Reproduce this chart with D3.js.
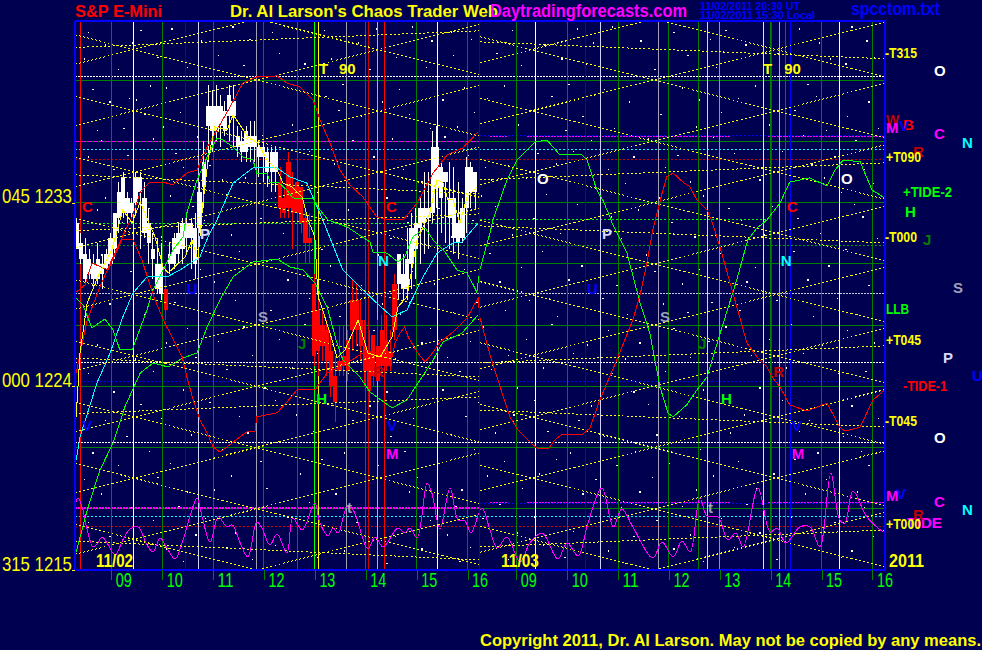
<!DOCTYPE html>
<html><head><meta charset="utf-8"><title>S&amp;P E-Mini</title>
<script src="https://cdnjs.cloudflare.com/ajax/libs/d3/7.8.5/d3.min.js"></script>
<style>html,body{margin:0;padding:0;background:#000050;overflow:hidden}svg{display:block}text{font-family:"Liberation Sans",Arial,sans-serif;font-weight:bold}</style>
</head><body><svg id="c" width="982" height="650"></svg>
<script>
// ---- price bars: 5-minute E-mini bars, bar number from the session start
const barHigh=[1232.25,1231.5,1231.25,1230.75,1230.5,1231,1230.5,1230.75,1231.5,1232.5,1234,1234.5,1233.5,1233.25,1234.5,1234.5,1234,1232.75,1231.5,1231.25,1231,1230,1231,1231.5,1232,1232.25,1232.5,1232.25,1232.5,1234,1236,1238.75,1238.5,1238.75,1238.25,1238,1238.75,1238.75,1236.75,1236.5,1236.75,1237,1237,1236,1236,1235.75,1235.75,1235.75,1234.75,1233.75,1235.5,1234.5,1237,1233.75,1232.75,1232.5,1229.5,1228.25,1227.75,1227.25,1226.5,1225.5,1227,1227,1226.75,1229.25,1229,1228.25,1227.25,1226.75,1226.5,1227.25,1227.5,1227.5,1226.75,1229.5,1230.5,1230.5,1231.75,1232.5,1232.75,1233.25,1234.5,1234.5,1236.5,1236.75,1235,1234.5,1235,1234.75,1234,1233.25,1235.25,1235,1234.5];
const barBodyTop=[1232,1231,1230.5,1230.25,1230,1230.25,1230,1230.5,1231.25,1232.5,1233.5,1234.25,1233.25,1233,1234.25,1234.25,1233.25,1232,1230.75,1230,1230,1228.75,1230.5,1231.25,1231.5,1232,1232,1232,1231.75,1233.5,1235,1237.75,1237.75,1237.75,1237.75,1237.5,1238.25,1238,1236.25,1236,1236.5,1236.25,1236.25,1235.75,1235.75,1235.5,1235.5,1235.5,1234,1233.25,1235,1233.75,1234,1233.75,1232.25,1231.25,1229,1227.75,1227,1226.75,1225.75,1224.5,1225.25,1225.5,1226.25,1228.25,1228.25,1227.25,1226,1225.75,1226.5,1226,1226.75,1226.25,1225.75,1229,1230.5,1229.5,1230.25,1231.75,1232,1232.75,1232.75,1232.75,1235.75,1235.75,1234.75,1234.5,1233.25,1233.25,1232,1232.75,1234.75,1234.75,1234.5];
const barBodyBot=[1230.75,1230.25,1229.25,1229.5,1229.25,1229.25,1229.5,1229.75,1230,1230.75,1232.25,1232.5,1232.5,1232.5,1233,1233.5,1231.5,1231,1230.25,1228.75,1228.5,1227.75,1230,1230,1230.5,1230.75,1231.25,1231.25,1230,1231.75,1233.75,1236.75,1236.5,1236.5,1236.75,1236.5,1237.25,1237.25,1235.75,1235.5,1235.5,1235.75,1235.75,1235.25,1235.25,1234.5,1234.5,1234.5,1232.75,1232.5,1232.75,1232.5,1232.5,1232,1231,1231,1225.5,1225.75,1226,1225.25,1224,1223.25,1224.75,1225,1224.75,1226.75,1226.75,1226,1224.75,1223.75,1224.5,1224.25,1225,1225,1225,1226.75,1229,1228.75,1228.75,1230,1230.75,1231.75,1232,1232.25,1232.5,1233.75,1233.25,1234,1232.25,1231.25,1231,1231.25,1232.75,1233.5,1233.5];
const barLow=[1230.75,1230,1229,1229.25,1229,1229,1228.75,1229.75,1230,1230.25,1231.5,1232.25,1232,1232.25,1232.5,1230.75,1231.25,1230,1229.25,1228.5,1228.25,1227.25,1229.5,1229.75,1230,1230,1230.5,1229.75,1229.25,1231.5,1232.75,1235,1235.5,1236,1235.75,1236.25,1236,1235.75,1235.25,1235,1235,1235,1235,1234.25,1234,1233.75,1233.5,1233.5,1232.25,1232.25,1232.25,1230.75,1230.75,1231.5,1230,1230,1225,1224.5,1225.25,1224.5,1223.5,1222.25,1224.5,1224.5,1224.25,1225.75,1226,1225.25,1224,1223.25,1224,1224.25,1224.5,1224.75,1224.75,1226.25,1228.25,1228.25,1228.25,1228.75,1229.25,1230,1230.5,1230.75,1232,1232.75,1231.5,1231,1230.75,1230.5,1230.25,1231,1231.5,1232.75,1232.75];
const redBars=[21,48,49,50,51,52,53,54,55,56,57,58,59,60,61,62,63,64,65,66,67,68,69,70,71,72,73,74,75];

// ---- indicator curves: [bar number, price]
const tide1=[[-0.4,1228.57],[2,1228.97],[3.6,1230.04],[7.4,1229.7],[10.7,1231.17],[13.3,1231.17],[15.4,1230.19],[18.5,1228.23],[20.8,1227.1],[22,1226.61],[24.9,1225.44],[26,1224.46],[27.5,1223.33],[29.1,1222.35],[30.8,1221.71],[32.2,1221.03],[33.8,1220.78],[35.5,1221.03],[38.5,1221.52],[40.2,1221.76],[42.1,1221.81],[42.5,1222.5],[44.9,1222.6],[47.3,1222.7],[49.6,1223.23],[52,1223.82],[56.2,1223.82],[59.1,1224.65],[63.8,1225.14],[67.5,1225.63],[71.1,1225.68],[74.4,1225.44],[75.1,1226.12],[76.3,1226.61],[77.4,1226.91],[78.2,1226.42],[80.3,1225.68],[82.2,1225.19],[84.1,1225.68],[85.7,1226.17],[88.5,1226.61],[92.1,1227.35],[94.7,1228.33],[95.1,1227.4],[97.5,1225.54],[99.9,1223.97],[102.2,1222.5],[104.1,1221.86],[106.9,1221.27],[108.8,1220.93],[111.2,1220.93],[112.8,1221.37],[114.5,1221.66],[119.4,1221.66],[121.1,1221.96],[123.4,1223.33],[127.4,1225.29],[131.2,1227.25],[132.9,1228.48],[134.5,1230.04],[135.9,1231.66],[137.1,1232.64],[138.1,1233.47],[139.2,1234.26],[140.7,1234.45],[143,1234.01],[144.7,1233.77],[146.3,1233.13],[148.7,1232.64],[149.9,1232.05],[151.8,1230.78],[154.8,1228.57],[158.1,1226.12],[160.5,1225.44],[162.8,1224.95],[164.2,1224.41],[165.9,1223.97],[168.2,1223.09],[172.3,1222.79],[177,1223.18],[180,1222],[181.2,1221.81],[184.8,1222],[187.8,1223.33],[190.6,1223.82]];
const tide1b=[[-0.1,1224.65],[2.5,1227.25],[5.5,1228.87],[8.6,1230.34],[11.9,1231.81],[13.1,1232.3],[15,1233.52],[17.3,1234.01],[20.4,1234.01],[22.7,1233.87],[26,1234.45],[28.4,1234.6],[30.8,1235.73],[33.1,1236.56],[36.2,1237.69],[39.2,1238.86],[42.5,1239.16],[47.3,1239.21],[49.6,1238.86],[52.7,1238.67],[55.8,1238.03],[57.4,1237.05],[59.8,1235.92],[62.1,1234.6],[64.5,1233.87],[67.5,1233.28],[70.8,1232.3],[73.9,1232.15],[77,1232.15],[80.3,1232.98],[84.1,1234.45],[87.4,1235.34],[91.1,1235.68],[94.7,1236.46]];
const tide2=[[-0.1,1228.33],[1.5,1227.99],[3.6,1226.86],[6.7,1227.3],[8.6,1226.76],[10.2,1225.78],[13.1,1225.78],[16.6,1227.74],[18,1228.72],[20.4,1229.7],[22.7,1230.68],[25.1,1231.32],[26,1232.49],[28.4,1234.11],[30.8,1235.24],[33.1,1236.17],[34.5,1236.07],[36.9,1235.73],[39.2,1235.24],[41.6,1235.09],[42.5,1234.45],[44.9,1234.45],[45.6,1234.01],[47.5,1234.01],[49.6,1233.62],[51,1233.23],[55.8,1233.18],[57.4,1232.64],[59.3,1232.15],[63.8,1231.81],[69.2,1231.07],[69.9,1230.58],[73.2,1230.53],[75.8,1230.09],[77.4,1230.34],[79.3,1231.32],[82.2,1231.76],[84.1,1231.17],[86.9,1230.58],[89.7,1229.7],[92.1,1229.55],[94.4,1228.62],[95.1,1229.7],[97.5,1231.51],[98.2,1232.15],[101.5,1234.11],[103.9,1235.09],[106.2,1235.58],[108.1,1235.97],[110.9,1236.07],[114,1235.34],[119.2,1235.34],[120.4,1235.09],[122.7,1233.62],[124.1,1233.13],[125.8,1232.3],[126.3,1232],[129.8,1230.53],[132.9,1228.08],[135.2,1226.61],[137.6,1223.97],[139.5,1222.69],[140.7,1222.5],[143.9,1223.09],[146.3,1223.82],[148.7,1224.46],[151.8,1226.61],[155.7,1229.21],[158.3,1231.17],[160.5,1231.76],[162.8,1232.15],[165.9,1232.98],[168.2,1234.01],[172.9,1234.21],[177,1233.82],[178.9,1234.6],[180.8,1235.09],[184.8,1235],[187.6,1233.62],[190.6,1233.23]];
const tide2b=[[-0.1,1215.88],[2.5,1217.94],[5.5,1219.9],[8.6,1221.22],[11.4,1223],[15,1224.65],[18,1225.14],[21.6,1224.95],[25.1,1225.39],[28.4,1225.63],[30.8,1226.91],[33.8,1228.23],[36.9,1229.36],[41.6,1230.09],[47.3,1230.24],[50.3,1229.85],[53.4,1229.7],[56.2,1229.06],[59.1,1227.89],[61.4,1226.12],[62.8,1225.29],[66.8,1224.46],[69.2,1223.72],[74.4,1222.94],[77.9,1223.33],[81,1224.31],[84.1,1225.29],[86.4,1226.17],[90.9,1226.61],[94.7,1227.5]];
const cyanCurve=[[-0.1,1220.39],[0.8,1221.52],[4.8,1224.16],[7.9,1225.63],[10.9,1227.4],[13.3,1228.57],[16.6,1229.36],[21.3,1229.36],[24.4,1229.7],[29.1,1230.34],[31,1231.32],[33.1,1232.15],[36.9,1233.96],[41.6,1234.7],[47.3,1234.7],[50.3,1234.26],[54.3,1233.96],[56.7,1232.79],[58.1,1232.15],[59.3,1231.51],[62.8,1229.7],[66.8,1228.87],[70.8,1228.08],[74.4,1227.4],[77.9,1227.74],[81.7,1229.36],[85,1230.53],[88.8,1231.02],[90.9,1231.07],[94.7,1232]];
const yellowCurve=[[-0.1,1222.5],[0.8,1225.63],[2.5,1228.08],[5,1229.36],[8.3,1230.68],[10.9,1232.64],[13.1,1232],[15,1233.03],[18.5,1231.32],[20.4,1229.85],[21.6,1229.55],[25.6,1230.34],[27.2,1231.17],[28.6,1230.19],[29.8,1232.98],[31,1235.09],[32.6,1236.71],[35.5,1236.56],[36.9,1237.3],[38.1,1236.95],[40.4,1236.22],[42.8,1235.92],[44.9,1235.09],[47.3,1234.6],[48.7,1233.96],[50.8,1233.77],[53.2,1233.28],[54.6,1232.15],[56.2,1231.32],[56.9,1228.48],[60.5,1226.12],[61.4,1225.39],[63.3,1225.78],[66.4,1227.25],[68.7,1225.63],[71.6,1225.44],[74.4,1226.42],[75.8,1227.89],[77.9,1228.38],[80.3,1231.17],[83.3,1232.49],[85,1234.11],[86.4,1233.96],[87.6,1233.13],[88.8,1233.13],[90.4,1232],[92.1,1233.28],[94.4,1233.77]];
const tideLine=[[-0.1,1218.33],[0.3,1218.53],[1.3,1218.09],[2.5,1216.96],[3.9,1216.13],[5,1216.32],[6,1216.62],[7.2,1216.32],[9.1,1215.74],[10.9,1216.47],[12.6,1217.01],[14.5,1217.11],[16.6,1216.23],[18,1215.88],[19.7,1216.57],[21.3,1216.08],[23.2,1215.54],[25.1,1216.47],[26.7,1217.6],[28.4,1218.53],[29.6,1217.6],[31.5,1216.37],[33.4,1217.6],[35.5,1217.11],[36.7,1217.21],[38.5,1216.37],[40.4,1215.64],[42.5,1217.35],[43.7,1217.06],[45.6,1216.23],[47.3,1216.76],[49.6,1215.83],[51,1217.55],[53.2,1216.96],[56.2,1218.28],[57.4,1217.3],[59.3,1216.67],[60.5,1217.06],[61.7,1216.81],[63.8,1218.09],[65.2,1217.94],[68.7,1216.03],[70.4,1216.62],[72.3,1216.13],[75.8,1217.06],[77.4,1216.81],[78.6,1217.06],[80.3,1216.57],[82.7,1219.26],[83.8,1218.77],[85.7,1217.01],[88.1,1219.02],[90,1217.45],[91.6,1217.4],[93,1216.81],[95.6,1218.04],[97.5,1216.96],[99.2,1216.08],[101.5,1216.62],[104.6,1215.39],[106.9,1216.32],[109.8,1216.81],[113.5,1215.54],[115.7,1216.32],[118.3,1215.69],[120.6,1217.3],[123.9,1219.02],[126.6,1217.11],[128.6,1217.99],[131.2,1217.11],[135.9,1215.59],[138.1,1216.37],[140.7,1215.64],[142.8,1216.42],[144.7,1215.88],[147,1218.53],[148.7,1217.65],[151.3,1217.6],[153.6,1216.47],[155.5,1216.81],[157.2,1216.13],[160.7,1219.02],[163.6,1216.86],[165.2,1217.06],[167.3,1216.32],[170.6,1217.11],[173,1217.11],[175.3,1216.13],[177.9,1219.75],[180,1217.45],[181.2,1217.3],[183.1,1218.87],[186.4,1217.6],[190.2,1216.86]];

// ---- axis ticks
const hourLabels=["09","10","11","12","13","14","15","16","09","10","11","12","13","14","15","16"];
const hourBars=[8.2,20.2,32.2,44.2,56.2,68.2,80.2,92.2,103.7,115.7,127.7,139.7,151.7,163.7,175.7,187.7];
const priceTicks=[1215,1224,1233];
const priceTickLabels=["315 1215","000 1224","045 1233"];
const gridPrices=[1218,1221,1224,1227,1230,1233,1236,1239];

// ---- planet vertical time lines (bar numbers)
const frameBars=[-0.4,95.1,190.6];
const redTimes=[0.9,72.6,167.1];
const darkRedTimes=[68.8,163.8];
const whiteTimes=[13.4,85.1,108.2,179.9];
const blueTimes=[25.6,120,168.3];
const lavenderTimes=[28.7,123.5,148.7];
const grayTimes=[42.4,63.6,137.2];
const jupiterTimes=[52.1,146.6];
const brightGreenTimes=[56.2,151.7];
const yellowTimes=[57,162];
const cyanTimes=[70.9,165.7];

// ---- horizontal planet levels (prices)
const whiteLevels=[1239.19,1225.15,1221.23];
const grayLevel=[1228.53];
const cyanLevels=[1235.6,1217.63];
const darkRedLevels=[1235.1,1217.12];
const blueLevel=[1224.23];
const darkGreenLevel=[1230.92];
const mercuryLeft=[1236,1218.04];
const mercuryRight=[1236.25,1218.3];
const venusRight=[1236.27,1218.28];

// ---- lattice of straight price lines: each half session
const halfStart=[-0.4,95.1];
const halfEnd=[95.1,190.6];
const halfCentre=[42.4,136.1];
const latticeLevels=[1215,1218,1221,1224,1227,1230,1233,1236,1239,1242];
const latticeSlope=0.052;
const flatLeftRise=[[1240.6,1241.42],[1231.63,1232.45],[1222.66,1223.48]];
const flatLeftFall=[[1234.36,1233.43],[1225.39,1224.46],[1216.42,1215.49]];
const flatRightFall=[[1240.88,1240.05],[1231.86,1231.03],[1222.84,1222.01]];
const flatRightRise=[[1234.12,1234.95],[1225.15,1225.98],[1216.13,1216.96]];

// ---- planet letters placed on the chart
const letterNames=["C","C","C","O","O","P","P","U","U","S","S","J","J","H","H","N","N","R","R","V","V","V","M","M","t","t","T","90","T","90"];
const letterBars=[1.3,73,167.5,108.6,180.3,29.1,123.9,26,120.4,42.8,137.6,52.2,146.6,56.5,152,71.1,166.1,69.9,164.3,1.3,73.2,168.7,73,168.7,63.8,148.9,57.2,61.9,161.9,166.9];
const letterPrices=[1232.54,1232.54,1232.54,1233.91,1233.91,1231.22,1231.22,1228.52,1228.52,1227.15,1227.15,1225.83,1225.83,1223.13,1223.13,1229.9,1229.9,1224.46,1224.46,1221.81,1221.81,1221.81,1220.44,1220.44,1217.79,1217.79,1239.3,1239.3,1239.3,1239.3];

// ---- background star field: price row, then bar numbers
const starRows=[
[1241.5,[3,15,22,37,46,58,71,79,88,103,118,126,141,153,170,183]],
[1240.9,[7,13,29,41,52,66,84,93,110,122,133,149,158,175,186]],
[1240.2,[2,19,33,48,60,75,89,99,114,128,144,165,178,188]],
[1239.7,[10,26,39,54,69,82,105,120,136,151,168,181]],
[1238.7,[4,21,17,63,76,91,101,116,124,143,160,172,185]],
[1238.1,[8,14,12,59,72,86,97,112,130,147,156,174,187]],
[1237.4,[1,16,24,62,67,78,94,107,119,138,152,169,182]],
[1236.7,[5,11,20,51,56,83,90,104,115,127,146,163,177,189]],
[1236.2,[6,18,28,44,65,74,87,100,121,135,150,171,184]],
[1235.4,[3,12,23,55,70,92,109,117,131,142,155,166,179]],
[1234.8,[9,25,31,61,77,96,102,113,125,139,159,173,186]],
[1234.1,[2,15,34,40,68,81,98,106,129,145,161,176,188]],
[1233.4,[7,22,35,57,73,95,111,123,137,148,167,180]],
[1232.8,[5,17,27,47,64,85,99,118,132,154,164,183]],
[1232.2,[11,30,43,53,78,93,108,126,140,157,170,185]],
[1231.4,[1,20,36,49,74,88,103,114,128,146,162,175,189]],
[1230.6,[6,24,38,58,71,97,110,122,134,152,169,181]],
[1229.8,[13,29,42,60,79,91,105,119,136,147,160,177]],
[1229.1,[4,19,32,50,67,84,100,116,127,143,158,172,187]],
[1228.2,[8,23,37,55,72,94,107,124,138,150,165,179]],
[1227.6,[2,16,30,46,62,76,89,101,113,130,144,156,174,184]],
[1226.9,[10,26,39,54,70,83,96,112,125,141,153,168,182]],
[1226.2,[5,21,33,48,66,81,93,106,120,133,149,163,176,188]],
[1225.5,[14,28,41,57,75,87,102,117,129,145,159,171]],
[1224.8,[3,18,35,51,64,90,98,110,126,139,155,167,180,186]],
[1223.9,[9,25,44,59,73,86,104,115,131,148,161,178]],
[1223.2,[1,15,31,47,69,82,95,108,121,135,151,166,183]],
[1222.5,[7,20,38,52,65,79,92,103,118,128,142,157,173,189]],
[1221.7,[12,27,40,56,74,88,99,111,124,137,154,170,181]],
[1220.9,[4,17,34,49,63,77,94,107,116,132,147,162,175,185]],
[1220.3,[10,22,43,58,71,85,101,113,127,140,156,169,187]],
[1219.6,[2,19,36,53,68,80,97,109,122,136,150,164,177]],
[1218.9,[6,26,32,45,61,78,91,105,119,133,146,160,172,184]],
[1218.2,[13,24,42,55,72,89,100,112,128,143,158,174,186]],
[1217.5,[3,18,30,50,66,83,96,108,123,137,152,168,179]],
[1216.8,[8,28,37,60,75,87,104,117,131,145,161,176,188]],
[1216.1,[1,21,35,47,63,81,93,110,125,141,155,170,183]],
[1215.5,[11,25,41,57,73,90,102,115,129,148,165,180]]
];

// ---- scales
const W=982,H=650;
const x=d3.scaleLinear().domain([0,191]).range([76.6,886.4]);
const y=d3.scaleLinear().domain([1215,1241.9]).range([570,21]);
const svg=d3.select("#c");
svg.append("rect").attr("width",W).attr("height",H).attr("fill","#000050");
svg.append("defs").append("clipPath").attr("id","plot").append("rect")
  .attr("x",x(-0.4)).attr("y",y(1241.9)).attr("width",x(190.6)-x(-0.4)).attr("height",y(1215)-y(1241.9));
const plot=svg.append("g").attr("clip-path","url(#plot)").attr("shape-rendering","crispEdges");

// stars
const stars=starRows.flatMap(([p,bs])=>bs.map((b,i)=>[b+((i%3)-1)*0.3,p+((i%4)-1.5)*0.09]));
plot.append("g").selectAll("rect").data(stars).join("rect")
  .attr("x",d=>x(d[0])).attr("y",d=>y(d[1])).attr("width",1.4).attr("height",1.4).attr("fill","#fff");

// helpers
function vLines(bars,color,w){
  plot.append("g").selectAll("line").data(bars).join("line")
    .attr("x1",d=>x(d)).attr("x2",d=>x(d)).attr("y1",y(1241.9)).attr("y2",y(1215))
    .attr("stroke",color).attr("stroke-width",w||1);
}
function levels(ps,from,to,color,dash,w){
  plot.append("g").selectAll("line").data(ps).join("line")
    .attr("x1",x(from)).attr("x2",x(to)).attr("y1",d=>y(d)).attr("y2",d=>y(d))
    .attr("stroke",color).attr("stroke-width",w||1).attr("stroke-dasharray",dash||null);
}

// horizontal grid and levels
levels(gridPrices,-0.4,190.6,"#008000");
levels(whiteLevels,-0.4,190.6,"#ffffff","2 1");
levels(grayLevel,-0.4,190.6,"#c8c8e0","2 1");
levels(cyanLevels,-0.4,190.6,"#00ffff","2 2");
levels(darkRedLevels,-0.4,190.6,"#d00000","2 2");
levels(blueLevel,-0.4,190.6,"#0000ff","2 2");
levels(darkGreenLevel,-0.4,190.6,"#00a000","2 2");
levels([1231.96],-0.4,95.1,"#00ff00","2 2");
levels([1232.15],95.1,163,"#00ff00","2 2");
levels(venusRight,95.1,190.6,"#0000ff","2 2");
levels(mercuryLeft,-0.4,95.1,"#ff00ff","2 1",1.6);
levels(mercuryRight,97.5,101.5,"#ff00ff","2 1",1.4);
levels(mercuryRight,106.2,154,"#ff00ff","2 1",1.4);
levels(mercuryRight,163,190.6,"#ff00ff","2 1",1.4);

// vertical time lines
vLines(hourBars,"#008000");
vLines(jupiterTimes,"#008000");
vLines(brightGreenTimes,"#00ff00");
vLines(darkRedTimes,"#d00000");
vLines(whiteTimes,"#ffffff");
vLines(blueTimes,"#0000ff");
vLines(lavenderTimes,"#d0d0ff");
vLines(grayTimes,"#a0a0b8");
vLines(yellowTimes,"#ffff00");
vLines(cyanTimes,"#00ffff");
vLines(redTimes,"#ff0000");

// candle bars
const bars=barHigh.map((h,i)=>({i,h,t:barBodyTop[i],b:barBodyBot[i],l:barLow[i],col:redBars.includes(i)?"#ff0000":"#ffffff"}));
const gb=plot.append("g");
gb.selectAll("line").data(bars).join("line")
  .attr("x1",d=>x(d.i)).attr("x2",d=>x(d.i)).attr("y1",d=>y(d.h)).attr("y2",d=>y(d.l))
  .attr("stroke",d=>d.col);
gb.selectAll("rect").data(bars).join("rect")
  .attr("x",d=>x(d.i)-2.1).attr("width",4.2)
  .attr("y",d=>y(d.t)).attr("height",d=>Math.max(1,y(d.b)-y(d.t)))
  .attr("fill",d=>d.col);

// yellow lattice
const segs=[];
halfStart.forEach((s,k)=>{
  const e=halfEnd[k],c=halfCentre[k];
  latticeLevels.forEach(L=>{
    segs.push([s,L+latticeSlope*(s-c),e,L+latticeSlope*(e-c)]);
    segs.push([s,L-latticeSlope*(s-c),e,L-latticeSlope*(e-c)]);
  });
  (k===0?flatLeftRise.concat(flatLeftFall):flatRightFall.concat(flatRightRise)).forEach(f=>segs.push([s,f[0],e,f[1]]));
});
plot.append("g").selectAll("line").data(segs).join("line")
  .attr("x1",d=>x(d[0])).attr("y1",d=>y(d[1])).attr("x2",d=>x(d[2])).attr("y2",d=>y(d[3]))
  .attr("stroke","#ffff00").attr("stroke-width",1).attr("stroke-dasharray","2 2.2");

// curves
const curves=plot.append("g").attr("fill","none");
const lin=d3.line().x(d=>x(d[0])).y(d=>y(d[1]));
const smooth=d3.line().x(d=>x(d[0])).y(d=>y(d[1])).curve(d3.curveCatmullRom.alpha(0.5));
curves.append("path").attr("d",smooth(tideLine)).attr("stroke","#ff00ff");
curves.append("path").attr("d",lin(cyanCurve)).attr("stroke","#00ffff");
curves.append("path").attr("d",lin(tide2b)).attr("stroke","#00ff00");
curves.append("path").attr("d",lin(tide2)).attr("stroke","#00ff00");
curves.append("path").attr("d",lin(tide1b)).attr("stroke","#ff0000");
curves.append("path").attr("d",lin(tide1)).attr("stroke","#ff0000");
curves.append("path").attr("d",lin(yellowCurve)).attr("stroke","#ffff00");

// frame
const frame=svg.append("g").attr("shape-rendering","crispEdges");
frame.selectAll("line.v").data(frameBars).join("line").attr("class","v")
  .attr("x1",d=>x(d)).attr("x2",d=>x(d)).attr("y1",y(1241.9)).attr("y2",y(1215))
  .attr("stroke","#0000ff").attr("stroke-width",(d,i)=>i===1?1:2);
frame.selectAll("line.h").data([1241.9,1215]).join("line").attr("class","h")
  .attr("x1",x(-0.4)).attr("x2",x(190.6)).attr("y1",d=>y(d)).attr("y2",d=>y(d))
  .attr("stroke","#0000ff").attr("stroke-width",2);

// text helper
function lab(parent,t,px,py,color,w,size){
  const e=parent.append("text").attr("x",px).attr("y",py).attr("fill",color)
    .attr("font-size",size||15).text(t);
  if(w) e.attr("textLength",w).attr("lengthAdjust","spacingAndGlyphs");
  return e;
}

// axes
const xAxis=d3.axisBottom(x).tickValues(hourBars).tickSize(10).tickPadding(0)
  .tickFormat((d,i)=>hourLabels[i]);
const gx=svg.append("g").attr("transform",`translate(0,${y(1215)})`).call(xAxis);
gx.select(".domain").remove();
gx.selectAll(".tick line").attr("stroke","#008000").attr("shape-rendering","crispEdges");
gx.selectAll(".tick text").attr("fill","#00ff00").attr("font-size",20).attr("text-anchor","start")
  .attr("x",4).attr("y",17).attr("dy",0).attr("textLength",16).attr("lengthAdjust","spacingAndGlyphs")
  .style("font-family",'"Liberation Sans"').style("font-weight","normal");

const yAxis=d3.axisLeft(y).tickValues(priceTicks).tickSize(3).tickPadding(0)
  .tickFormat((d,i)=>priceTickLabels[i]);
const gy=svg.append("g").attr("transform",`translate(${x(-0.4)},0)`).call(yAxis);
gy.select(".domain").remove();
gy.selectAll(".tick line").attr("stroke","#ffff00").attr("shape-rendering","crispEdges");
gy.selectAll(".tick text").attr("fill","#ffff00").attr("font-size",21).attr("text-anchor","start")
  .attr("x",-73).attr("dy",0).attr("y",0).attr("textLength",70).attr("lengthAdjust","spacingAndGlyphs")
  .style("font-family",'"Liberation Sans"').style("font-weight","normal");

// planet letters on chart
const letterColors={C:"#ff0000",O:"#ffffff",P:"#d8d8ff",U:"#0000ff",S:"#a0a0b8",J:"#008000",H:"#00ff00",N:"#00ffff",R:"#c00000",V:"#0000ff",M:"#ff00ff",t:"#a0a0b8",T:"#ffff00","90":"#ffff00"};
svg.append("g").selectAll("text").data(letterNames).join("text")
  .attr("x",(d,i)=>x(letterBars[i])).attr("y",(d,i)=>y(letterPrices[i]))
  .attr("fill",d=>letterColors[d]).attr("font-size",15).text(d=>d);

// titles and margin text
const t=svg.append("g");
lab(t,"S&P E-Mini",75,17,"#ff0000",87,17);
lab(t,"Dr. Al Larson's Chaos Trader Web",230,17,"#ffff00",268,17);
lab(t,"Daytradingforecasts.com",490,17,"#ff00ff",197,18);
lab(t,"11/02/2011 20:30 UT",700,10,"#0000ff",100,11);
lab(t,"11/02/2011 15:30 Local",700,19,"#0000ff",115,11);
lab(t,"spcctom.txt",851,15,"#0000ff",89,18);
lab(t,"11/02",96,567,"#ffff00",37,19);
lab(t,"11/03",501,567,"#ffff00",38,19);
lab(t,"2011",889,567,"#ffff00",35,19);
lab(t,"Copyright 2011, Dr. Al Larson. May not be copied by any means.",480,646,"#ffff00",501,16);

// right margin labels
lab(t,"-T315",885,58,"#ffff00",32,15);
lab(t,"O",934,76,"#ffffff",null,15);
lab(t,"W",886,125,"#c00000",null,14);
lab(t,"B",903,130,"#ff0000",null,15);
lab(t,"V",899,131,"#0000ff",null,15);
lab(t,"M",886,133,"#ff00ff",null,15);
lab(t,"C",934,139,"#ff00ff",null,15);
lab(t,"N",962,148,"#00ffff",null,15);
lab(t,"R",913,157,"#c00000",null,15);
lab(t,"+T090",886,162,"#ffff00",35,15);
lab(t,"+TIDE-2",903,197,"#00ff00",49,15);
lab(t,"H",905,217,"#00ff00",null,15);
lab(t,"-T000",885,242,"#ffff00",32,15);
lab(t,"J",923,245,"#008000",null,15);
lab(t,"S",953,293,"#a0a0b8",null,15);
lab(t,"LLB",886,314,"#00ff00",23,15);
lab(t,"+T045",886,345,"#ffff00",35,15);
lab(t,"P",943,363,"#d8d8ff",null,15);
lab(t,"U",972,381,"#0000ff",null,15);
lab(t,"-TIDE-1",903,391,"#ff0000",44,15);
lab(t,"-T045",885,426,"#ffff00",32,15);
lab(t,"O",934,443,"#ffffff",null,15);
lab(t,"M",886,501,"#ff00ff",null,15);
lab(t,"V",896,499,"#0000ff",null,15);
lab(t,"C",934,507,"#ff00ff",null,15);
lab(t,"N",962,515,"#00ffff",null,15);
lab(t,"TIDE",907,528,"#ff00ff",35,15);
lab(t,"R",913,520,"#c00000",null,15);
lab(t,"+T000",886,529,"#ffff00",35,15);
</script></body></html>
